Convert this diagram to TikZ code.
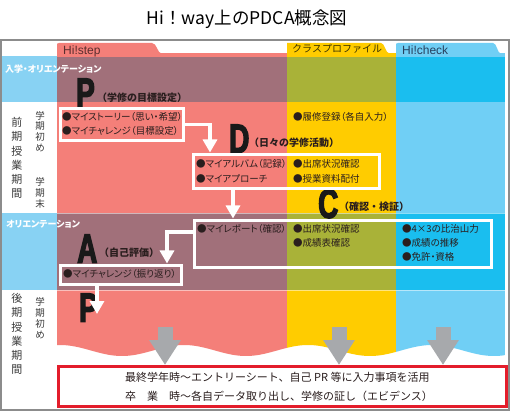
\documentclass[tikz,border=0pt]{standalone}
\usepackage{fontspec}
\usetikzlibrary{arrows.meta,calc}
\newfontfamily\jpp[RawFeature=+palt]{Noto Sans CJK JP}
\newfontfamily\jpn{Noto Sans CJK JP}
\newfontfamily\pdcaf[FakeStretch=0.68,FakeBold=3]{Liberation Sans Bold}
\newfontfamily\tabf{Liberation Sans}
\definecolor{redc}{HTML}{F47F79}
\definecolor{redd}{HTML}{A1707A}
\definecolor{yelc}{HTML}{FFCC00}
\definecolor{yeld}{HTML}{A9B238}
\definecolor{bluc}{HTML}{70CFF5}
\definecolor{blud}{HTML}{1ABEEF}
\definecolor{lblue}{HTML}{88D2F3}
\definecolor{framec}{HTML}{8C8C8C}
\definecolor{txtdark}{HTML}{2A1E1E}
\definecolor{vtc}{HTML}{3A3A3A}
\definecolor{arrgray}{HTML}{A7A9AC}
\definecolor{boxred}{HTML}{E31D2B}
\definecolor{tabred}{HTML}{5A2E2E}
\definecolor{tabyel}{HTML}{3B3300}
\definecolor{tabblu}{HTML}{27405E}
\begin{document}
\begin{tikzpicture}[x=1pt,y=-1pt,
  boxtxt/.style={font=\jpp\fontsize{9.5}{11}\selectfont, text=txtdark, anchor=west, inner sep=0},
  lab/.style={font=\jpn\bfseries\fontsize{10}{12}\selectfont, text=txtdark, anchor=west, inner sep=0},
  pdca/.style={font=\pdcaf\fontsize{41}{41}\selectfont, text=black!90, anchor=south west, inner sep=0},
  wbox/.style={draw=white, line width=3pt, inner sep=0, anchor=north west},
  wa/.style={draw=white, line width=3.2pt, -{Triangle[width=14pt,length=13pt]}},
  ga/.style={draw=arrgray, line width=15pt, -{Triangle[width=30pt,length=25pt]}},
  vt/.style={font=\jpn\fontsize{11}{14.3}\selectfont, align=center, inner sep=0, text=vtc},
  vts/.style={font=\jpn\fontsize{9.5}{10.8}\selectfont, align=center, inner sep=0, text=vtc},
  tablab/.style={font=\tabf\fontsize{12}{12}\selectfont, anchor=base west, inner sep=0},
  wtxt/.style={font=\jpp\bfseries\fontsize{9}{10}\selectfont, text=white, anchor=west, inner sep=0}
]
\useasboundingbox (0,0) rectangle (512,417);
\fill[white] (0,0) rectangle (512,417);

% title
\node[font=\jpn\fontsize{17.5}{18}\selectfont, inner sep=0] (title) at (247,19.5) {Hi！way上のPDCA概念図};

% frame
\draw[framec, line width=1.5pt] (1,40) rectangle (509,410);

% left bands
\fill[lblue] (2,56) rectangle (57,102);
\fill[lblue] (2,213) rectangle (57,290);

% columns with wavy bottom
\begin{scope}
\clip (57,53) -- (505,53) -- plot[domain=505:57,samples=150] (\x,{350.5-5.5*cos((\x-60)*2.9032)}) -- cycle;
\fill[redc] (57,53) rectangle (287,362);
\fill[yelc] (287,53) rectangle (396,362);
\fill[bluc] (396,53) rectangle (505,362);
\fill[redd] (57,57) rectangle (287,102);
\fill[yeld] (287,57) rectangle (396,102);
\fill[blud] (396,57) rectangle (505,102);
\fill[redd] (57,213) rectangle (287,290);
\fill[yeld] (287,213) rectangle (396,290);
\fill[blud] (396,213) rectangle (505,290);
\draw[white, opacity=0.5, line width=0.7pt] (57,213) -- (505,213) (57,290) -- (505,290);
\end{scope}

% tabs
\fill[redc] (57,55) -- (57,45) .. controls (57,43.5) .. (59,43) -- (152,43) .. controls (157,43) and (157,53) .. (162,54) -- (162,55) -- cycle;
\fill[yelc] (287,55) -- (287,43) -- (381,43) .. controls (385,43) and (385,53) .. (390,54) -- (390,55) -- cycle;
\fill[bluc] (396,55) -- (396,45) .. controls (396,43.5) .. (398,43) -- (493,43) .. controls (497,43) and (497,53) .. (501,54) -- (501,55) -- cycle;
\node[tablab, text=tabred] (tstep) at (63,54.5) {Hi!step};
\node[font=\jpn\fontsize{10}{10}\selectfont, text=tabyel, anchor=west, inner sep=0] (tprof) at (292,49) {クラスプロファイル};
\node[tablab, text=tabblu] (tcheck) at (402,54.5) {Hi!check};

% left labels
\node[wtxt] (r1) at (5,69) {入学・オリエンテーション};
\node[wtxt] (r3) at (6,224.5) {オリエンテーション};
\node[vt] (zenki) at (17,158) {前\\期\\授\\業\\期\\間};
\node[vts] (s1) at (40,131.5) {学\\期\\初\\め};
\node[vts] (s2) at (40,193) {学\\期\\末};
\node[vt] (kouki) at (17,334) {後\\期\\授\\業\\期\\間};
\node[vts] (s3) at (40,318) {学\\期\\初\\め};

% big letters
\node[pdca] (P1) at (76,107) {P};
\node[pdca] (D) at (229,153) {D};
\node[pdca] (C) at (318,218.5) {C};
\node[pdca] (A) at (77,263) {A};
\node[pdca] (P2) at (79,322) {P};

% labels
\node[lab] (lp) at (97,98) {（学修の目標設定）};
\node[lab] (ld) at (249,143) {（日々の学修活動）};
\node[lab] (lc) at (339,207) {（確認・検証）};
\node[lab] (la) at (99,253) {（自己評価）};

% boxes
\node[wbox, minimum width=123pt, minimum height=32pt] (pbox) at (59,107) {};
\node[wbox, minimum width=186pt, minimum height=34pt] (dbox) at (192,153) {};
\node[wbox, minimum width=297pt, minimum height=47pt] (cbox) at (193,219) {};
\node[wbox, minimum width=121pt, minimum height=19pt] (abox) at (59,264) {};

% texts
\node[boxtxt] (t1) at (62,116.5) {●マイストーリー（思い・希望）};
\node[boxtxt] (t2) at (62,131) {●マイチャレンジ（目標設定）};
\node[boxtxt] (t3) at (293,116.5) {●履修登録（各自入力）};
\node[boxtxt] (t4) at (196,164) {●マイアルバム（記録）};
\node[boxtxt] (t5) at (196,178.5) {●マイアプローチ};
\node[boxtxt] (t6) at (293,164) {●出席状況確認};
\node[boxtxt] (t7) at (293,178.5) {●授業資料配付};
\node[boxtxt] (t8) at (197,229) {●マイレポート（確認）};
\node[boxtxt] (t9) at (293,229) {●出席状況確認};
\node[boxtxt] (t10) at (293,243) {●成績表確認};
\node[boxtxt] (t11) at (402,229) {●4×3の比治山力};
\node[boxtxt] (t12) at (402,243) {●成績の推移};
\node[boxtxt] (t13) at (402,256.5) {●免許・資格};
\node[boxtxt] (t14) at (63,274) {●マイチャレンジ（振り返り）};

% white PDCA arrows
\draw[wa] (pbox.east) -| ($(dbox.north west)+(18,-0.5)$);
\draw[wa] ($(dbox.south west)+(41,0)$) -- ($(cbox.north west)+(40,-0.5)$);
\draw[wa] ($(cbox.north west)+(0,13)$) -| ($(abox.north west)+(108,-0.5)$);
\coordinate (p2tip) at (97,314);
\draw[wa] ($(abox.south west)+(38,0)$) -- (p2tip);

% bottom box
\node[draw=boxred, line width=2.5pt, fill=white, minimum width=448pt, minimum height=40pt, inner sep=0, anchor=north west] (redbox) at (57,365) {};
\node[font=\jpn\fontsize{11}{19}\selectfont, align=left, inner sep=0, text=txtdark] (rtext) at (279,386.5) {最終学年時～エントリーシート、自己 PR 等に入力事項を活用\\卒　業　時～各自データ取り出し、学修の証し（エビデンス）};

% gray arrows
\coordinate (g1) at (165,327);
\coordinate (g2) at (339,327);
\coordinate (g3) at (443,327);
\draw[ga] (g1) -- (redbox.north -| g1);
\draw[ga] (g2) -- (redbox.north -| g2);
\draw[ga] (g3) -- (redbox.north -| g3);
\end{tikzpicture}
\end{document}
